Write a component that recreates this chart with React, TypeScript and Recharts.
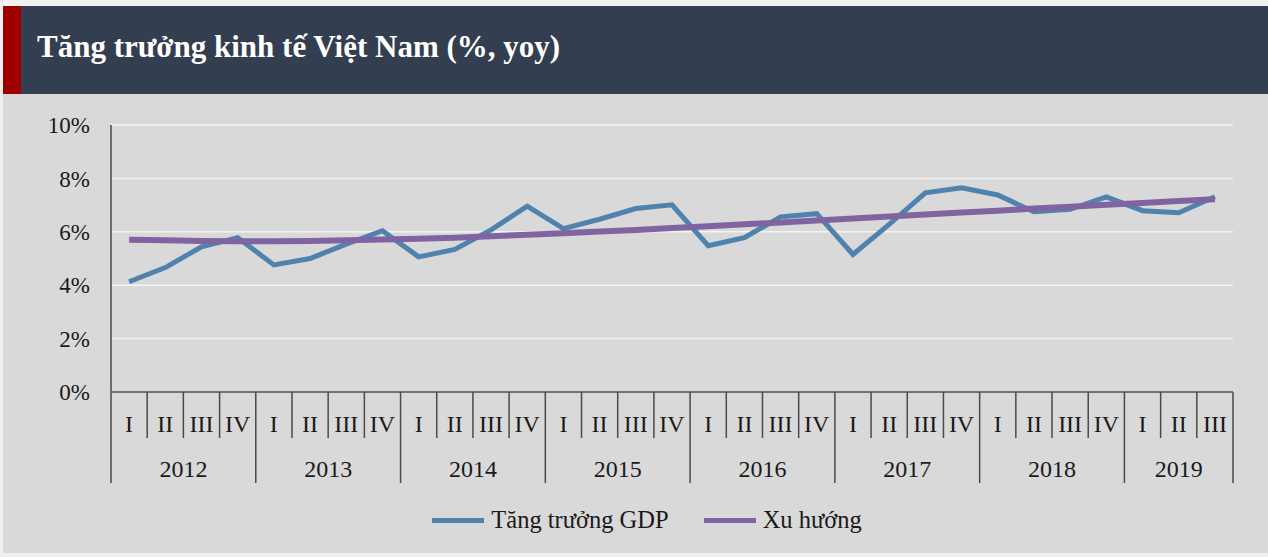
import { LineChart, Line, XAxis, YAxis, CartesianGrid, Legend } from "recharts";

const quarterLabels = [
  "I", "II", "III", "IV",
  "I", "II", "III", "IV",
  "I", "II", "III", "IV",
  "I", "II", "III", "IV",
  "I", "II", "III", "IV",
  "I", "II", "III", "IV",
  "I", "II", "III", "IV",
  "I", "II", "III",
];
const yearLabels = [
  "2012", "2012", "2012", "2012",
  "2013", "2013", "2013", "2013",
  "2014", "2014", "2014", "2014",
  "2015", "2015", "2015", "2015",
  "2016", "2016", "2016", "2016",
  "2017", "2017", "2017", "2017",
  "2018", "2018", "2018", "2018",
  "2019", "2019", "2019",
];
const gdpGrowth = [
  4.13, 4.66, 5.44, 5.78,
  4.76, 5.0, 5.54, 6.04,
  5.06, 5.34, 6.07, 6.96,
  6.12, 6.47, 6.87, 7.01,
  5.48, 5.78, 6.56, 6.68,
  5.15, 6.28, 7.46, 7.65,
  7.38, 6.75, 6.84, 7.31,
  6.79, 6.71, 7.31,
];
const trend = [
  5.7, 5.68, 5.66, 5.65,
  5.65, 5.66, 5.68, 5.71,
  5.74, 5.78, 5.83, 5.89,
  5.95, 6.01, 6.07, 6.14,
  6.21, 6.28, 6.35, 6.42,
  6.5, 6.57, 6.65, 6.72,
  6.79, 6.87, 6.94, 7.01,
  7.08, 7.15, 7.22,
];
const yTicks = [0, 2, 4, 6, 8, 10];

const data = quarterLabels.map((q, i) => ({
  key: i,
  q,
  year: yearLabels[i],
  gdp: gdpGrowth[i],
  trend: trend[i],
}));

const SERIF = "'Liberation Serif', 'Times New Roman', serif";
const BLUE = "#4f82ad";
const PURPLE = "#8064a2";
const LINE = "#4a4a4a";

function QuarterTick(props: any) {
  const { x, y, payload, index } = props;
  const off = payload?.offset || 18.1;
  const i = index ?? payload?.index ?? 0;
  const q = quarterLabels[i];
  const isFirst = q === "I";
  const isLast = i === quarterLabels.length - 1;
  const count = yearLabels.filter((yy) => yy === yearLabels[i]).length;
  return (
    <g>
      <line x1={x - off} x2={x - off} y1={y} y2={y + (isFirst ? 91 : 46)} stroke={LINE} strokeWidth={1.5} />
      {isLast && <line x1={x + off} x2={x + off} y1={y} y2={y + 91} stroke={LINE} strokeWidth={1.5} />}
      <text x={x} y={y + 40} textAnchor="middle" fontFamily={SERIF} fontSize={24} fill="#1a1a1a">
        {q}
      </text>
      {isFirst && (
        <text x={x - off + count * off} y={y + 85} textAnchor="middle" fontFamily={SERIF} fontSize={24} fill="#1a1a1a">
          {yearLabels[i]}
        </text>
      )}
    </g>
  );
}

function LegendContent() {
  const items = [
    { label: "Tăng trưởng GDP", color: BLUE },
    { label: "Xu hướng", color: PURPLE },
  ];
  return (
    <div style={{ height: 66, display: "flex", justifyContent: "center", alignItems: "center", gap: 35, paddingLeft: 58 }}>
      {items.map((it) => (
        <div key={it.label} style={{ display: "flex", alignItems: "center", gap: 7 }}>
          <div style={{ width: 52, height: 5, background: it.color }} />
          <span style={{ fontFamily: SERIF, fontSize: 24.5, color: "#1a1a1a" }}>{it.label}</span>
        </div>
      ))}
    </div>
  );
}

export default function App() {
  return (
    <div style={{ position: "absolute", left: 0, top: 0, width: 1268, height: 557, background: "#f0f0f0", overflow: "hidden" }}>
      <svg width={1268} height={94} style={{ position: "absolute", left: 0, top: 0 }}>
        <rect x={3} y={6} width={1265} height={88} fill="#333e50" />
        <rect x={3} y={6} width={18} height={88} fill="#a00000" />
        <text x={37} y={57} fill="#ffffff" fontFamily={SERIF} fontWeight="bold" fontSize={31}>
          Tăng trưởng kinh tế Việt Nam (%, yoy)
        </text>
      </svg>
      <div style={{ position: "absolute", left: 3, top: 94, width: 1265, height: 459, background: "#d9d9d9" }}>
        <LineChart width={1265} height={459} data={data} margin={{ top: 31, right: 35, left: 0, bottom: 0 }}>
          <CartesianGrid vertical={false} stroke="#f4f4f4" strokeWidth={1.5} />
          <XAxis
            dataKey="key"
            type="category"
            scale="band"
            interval={0}
            height={95}
            tickLine={false}
            tickSize={0}
            tickMargin={0}
            axisLine={{ stroke: LINE, strokeWidth: 1.5 }}
            tick={<QuarterTick />}
          />
          <YAxis
            domain={[0, 10]}
            ticks={yTicks}
            width={108}
            tickLine={false}
            tickSize={0}
            tickMargin={21}
            axisLine={{ stroke: LINE, strokeWidth: 1.5 }}
            tickFormatter={(v: number) => `${v}%`}
            tick={{ fontFamily: SERIF, fontSize: 23, fill: "#1a1a1a" }}
          />
          <Legend verticalAlign="bottom" height={66} content={<LegendContent />} />
          <Line type="linear" dataKey="gdp" stroke={BLUE} strokeWidth={5} dot={false} isAnimationActive={false} />
          <Line type="linear" dataKey="trend" stroke={PURPLE} strokeWidth={6} dot={false} isAnimationActive={false} />
        </LineChart>
      </div>
    </div>
  );
}
